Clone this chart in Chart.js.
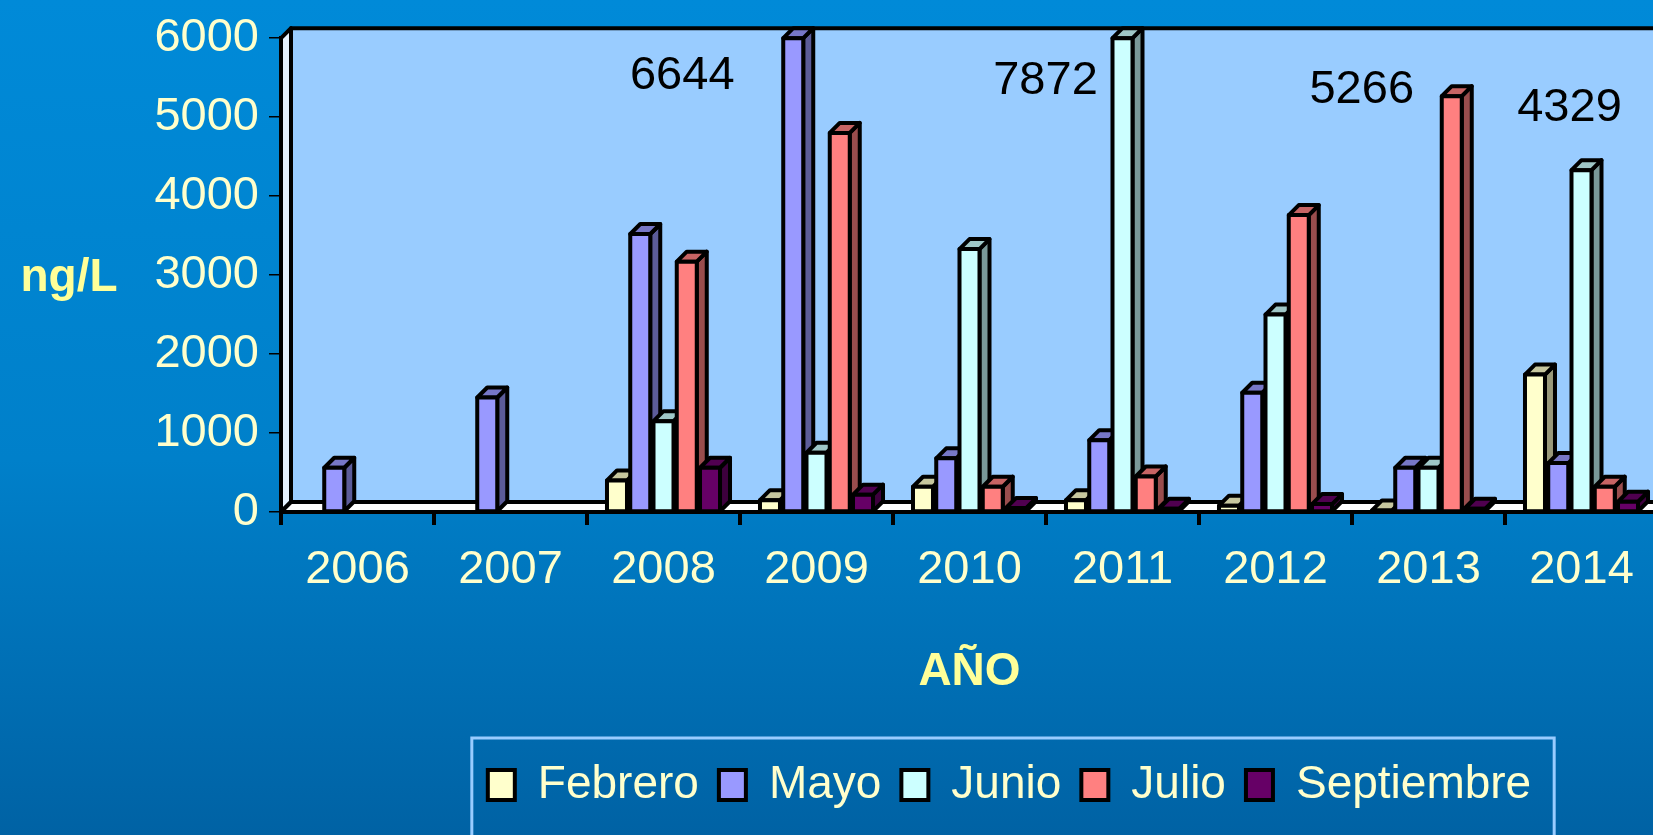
<!DOCTYPE html>
<html>
<head>
<meta charset="utf-8">
<script src="https://cdn.jsdelivr.net/npm/chart.js@4.4.1/dist/chart.umd.min.js"></script>
<style>
  html, body { margin: 0; padding: 0; overflow: hidden; }
  body { width: 1653px; height: 835px; background: linear-gradient(to bottom, #008AD8 0%, #0080CA 55%, #0062A4 100%); }
  canvas { display: block; }
</style>
</head>
<body>
<canvas id="myChart" width="1680" height="835"></canvas>
<script>
const years = ['2006', '2007', '2008', '2009', '2010', '2011', '2012', '2013', '2014'];
const febrero = [null, null, 400, 150, 320, 150, 80, 20, 1740];
const mayo = [560, 1450, 3520, 6644, 680, 910, 1510, 560, 620];
const junio = [null, null, 1150, 750, 3330, 7872, 2500, 560, 4329];
const julio = [null, null, 3170, 4800, 320, 450, 3760, 5266, 320];
const septiembre = [null, null, 560, 220, 50, 40, 100, 40, 130];
const yTicks = [0, 1000, 2000, 3000, 4000, 5000, 6000];

const seriesNames = ['Febrero', 'Mayo', 'Junio', 'Julio', 'Septiembre'];
const seriesData = [febrero, mayo, junio, julio, septiembre];
const seriesColors = ['#FFFFCC', '#9999FF', '#CCFFFF', '#FF8080', '#660066'];

// values written by hand next to some bars (the big ones run off the scale)
const noteYears = ['2009', '2011', '2013', '2014'];
const noteSeries = ['Mayo', 'Junio', 'Julio', 'Junio'];
const noteOffsets = [[-111, 38], [-77, 43], [-90, -6], [-12, -62]];

const depth = 10;
const outline = 4;
const legendShift = 40;

Chart.defaults.font.family = "'Liberation Sans', Arial, sans-serif";

function shade(hex, f) {
    const n = parseInt(hex.slice(1), 16);
    const r = Math.round(((n >> 16) & 255) * f);
    const g = Math.round(((n >> 8) & 255) * f);
    const b = Math.round((n & 255) * f);
    return 'rgb(' + r + ',' + g + ',' + b + ')';
}

function poly(ctx, pts, fill) {
    ctx.beginPath();
    ctx.moveTo(pts[0][0], pts[0][1]);
    for (let i = 1; i < pts.length; i++) ctx.lineTo(pts[i][0], pts[i][1]);
    ctx.closePath();
    ctx.fillStyle = fill;
    ctx.fill();
    ctx.stroke();
}

// fake excel 3d look: walls, floor and boxes around each bar
const box3d = {
    id: 'box3d',
    beforeDraw(chart) {
        const ctx = chart.ctx;
        const a = chart.chartArea;
        ctx.save();
        ctx.lineWidth = outline;
        ctx.strokeStyle = '#000';
        ctx.lineJoin = 'round';
        ctx.fillStyle = '#99CCFF';
        ctx.fillRect(a.left + depth, a.top - depth, a.right - a.left + 40, a.bottom - a.top);
        ctx.beginPath();
        ctx.moveTo(a.left + depth, a.bottom - depth);
        ctx.lineTo(a.left + depth, a.top - depth);
        ctx.lineTo(a.right + 40, a.top - depth);
        ctx.stroke();
        poly(ctx, [[a.left, a.top], [a.left + depth, a.top - depth], [a.left + depth, a.bottom - depth], [a.left, a.bottom]], '#E6F2FF');
        poly(ctx, [[a.left, a.bottom], [a.left + depth, a.bottom - depth], [a.right + depth, a.bottom - depth], [a.right, a.bottom]], '#FFFFFF');
        ctx.restore();
    },
    afterLayout(chart) {
        chart.legend.left += legendShift;
        chart.legend.right += legendShift;
    },
    afterDatasetsDraw(chart) {
        const ctx = chart.ctx;
        const a = chart.chartArea;
        ctx.save();
        ctx.lineWidth = outline;
        ctx.strokeStyle = '#000';
        ctx.lineJoin = 'round';
        for (let j = 0; j < years.length; j++) {
            chart.data.datasets.forEach(function(ds, i) {
                if (ds.data[j] == null) return;
                const bar = chart.getDatasetMeta(i).data[j];
                const p = bar.getProps(['x', 'y', 'base', 'width'], true);
                const l = p.x - p.width / 2, r = p.x + p.width / 2;
                const t = Math.max(p.y, a.top), b = p.base;
                const c = seriesColors[i];
                poly(ctx, [[r, t], [r + depth, t - depth], [r + depth, b - depth], [r, b]], shade(c, 0.6));
                poly(ctx, [[l, t], [l + depth, t - depth], [r + depth, t - depth], [r, t]], shade(c, 0.78));
                poly(ctx, [[l, t], [r, t], [r, b], [l, b]], c);
            });
        }
        ctx.restore();
    },
    afterDraw(chart) {
        const ctx = chart.ctx;
        const a = chart.chartArea;
        const yScale = chart.scales.y;
        ctx.save();
        // y axis title, horizontal
        ctx.font = "bold 46px 'Liberation Sans', Arial, sans-serif";
        ctx.fillStyle = '#FFFF99';
        ctx.textAlign = 'center';
        ctx.textBaseline = 'alphabetic';
        ctx.fillText('ng/L', 69, yScale.getPixelForValue(3000) + 16);

        ctx.font = "47px 'Liberation Sans', Arial, sans-serif";
        ctx.fillStyle = '#000';
        ctx.textBaseline = 'middle';
        for (let k = 0; k < noteYears.length; k++) {
            const j = years.indexOf(noteYears[k]);
            const i = seriesNames.indexOf(noteSeries[k]);
            const bar = chart.getDatasetMeta(i).data[j];
            const top = Math.max(bar.y, a.top);
            ctx.fillText(String(seriesData[i][j]), bar.x + noteOffsets[k][0], top + noteOffsets[k][1]);
        }

        // legend frame
        const lg = chart.legend;
        const hb = lg.legendHitBoxes;
        const last = hb[hb.length - 1];
        const fl = hb[0].left - 16;
        const fr = last.left + last.width + 23;
        ctx.strokeStyle = '#99CCFF';
        ctx.lineWidth = 3;
        ctx.strokeRect(fl, lg.top - 4, fr - fl, 200);
        ctx.restore();
    }
};

document.addEventListener('DOMContentLoaded', function() {
    const ctx = document.getElementById('myChart');
    const datasets = seriesNames.map(function(name, i) {
        return {
            label: name,
            data: seriesData[i],
            backgroundColor: seriesColors[i],
            borderColor: '#000000',
            borderWidth: outline,
            borderSkipped: false,
            categoryPercentage: 0.76,
            barPercentage: 0.86,
            clip: 0
        };
    });
    const myChart = new Chart(ctx, {
        type: 'bar',
        data: {
            labels: years,
            datasets: datasets
        },
        plugins: [box3d],
        options: {
            responsive: false,
            animation: false,
            layout: {padding: {top: 35, right: 22, bottom: 17, left: 0}},
            scales: {
                x: {
                    grid: {drawOnChartArea: false, color: '#000', lineWidth: outline, tickLength: 13, offset: true},
                    border: {color: '#000', width: outline},
                    ticks: {color: '#FFFFCC', font: {size: 47}, padding: 17, maxRotation: 0},
                    title: {display: true, text: 'AÑO', color: '#FFFF99', font: {size: 46, weight: 'bold'}, padding: {top: 0, bottom: 42}},
                    afterFit: function(scale) { scale.height = 230; }
                },
                y: {
                    min: 0,
                    max: 6000,
                    afterBuildTicks: function(scale) { scale.ticks = yTicks.map(v => ({value: v})); },
                    grid: {drawOnChartArea: false, color: '#000', lineWidth: 1.5, tickLength: 12},
                    border: {color: '#000', width: outline},
                    ticks: {
                        color: '#FFFFCC',
                        font: {size: 47},
                        padding: 10,
                        callback: function(value) { return String(value); }
                    },
                    afterFit: function(scale) { scale.width = 281; }
                }
            },
            plugins: {
                tooltip: {enabled: false},
                legend: {
                    position: 'bottom',
                    fullSize: false,
                    labels: {color: '#FFFFCC', font: {size: 46}, boxWidth: 27, boxHeight: 30, padding: 20}
                }
            }
        }
    });
});
</script>
</body>
</html>
